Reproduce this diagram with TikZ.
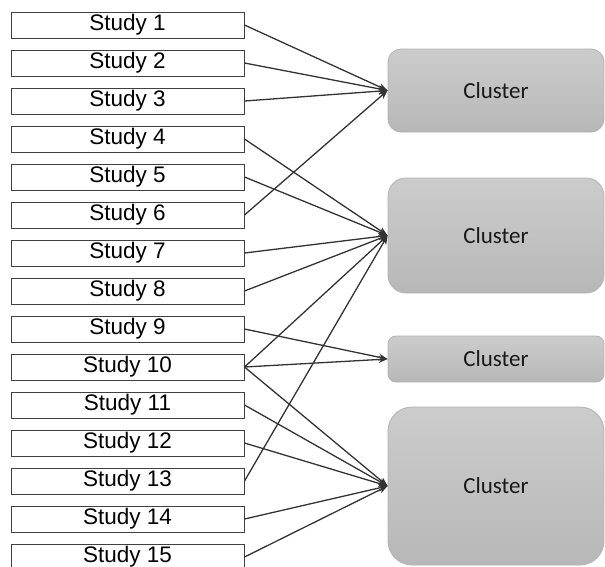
\documentclass[tikz,border=0pt]{standalone}
\usepackage{fontspec}
\setmainfont{Liberation Sans}
\newfontfamily\clusterfont{Carlito}
\usetikzlibrary{arrows.meta}
\begin{document}
\begin{tikzpicture}[x=1pt,y=-1pt,
  studybox/.style={draw=black!75, line width=1pt, fill=white, minimum width=233pt, minimum height=26pt, inner sep=0pt, font=\fontsize{22.5}{22.5}\selectfont},
  clusterbox/.style={draw=black!30, line width=0.8pt, top color=black!20, bottom color=black!28, minimum width=216pt, inner sep=0pt, font=\clusterfont\fontsize{23}{23}\selectfont, text=black!90},
  link/.style={draw=black!80, line width=1.3pt, -{Stealth[length=9pt,width=7pt]}}]
\useasboundingbox (0,0) rectangle (605,566);
\foreach \i in {1,...,15}{
  \node[studybox] (s\i) at (127.5,{25+38*(\i-1)}) {Study \i};
}
\node[clusterbox, minimum height=83pt, rounded corners=13pt] (c1) at (496,90.5) {Cluster};
\node[clusterbox, minimum height=115pt, rounded corners=18pt] (c2) at (496,235.5) {Cluster};
\node[clusterbox, minimum height=46pt, rounded corners=8pt] (c3) at (496,359) {Cluster};
\node[clusterbox, minimum height=158pt, rounded corners=24pt] (c4) at (496,486) {Cluster};
\foreach \s/\c in {1/1,2/1,3/1,6/1,4/2,5/2,7/2,8/2,10/2,13/2,9/3,10/3,10/4,11/4,12/4,14/4,15/4}{
  \draw[link] (s\s.east) -- (c\c.west);
}
\end{tikzpicture}
\end{document}
